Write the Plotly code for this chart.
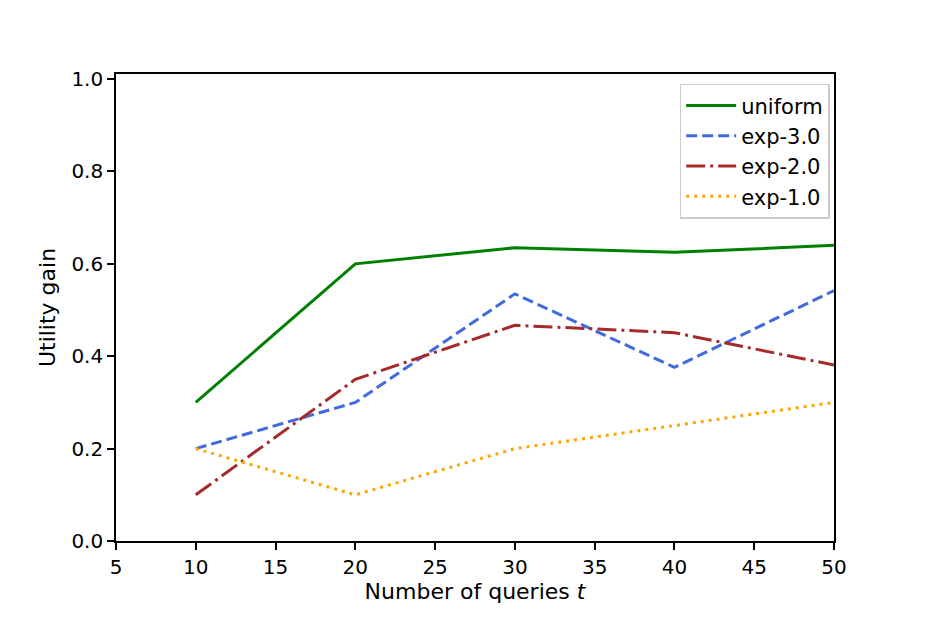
import plotly.graph_objects as go

# Number of queries on the x axis
queries = [10, 20, 30, 40, 50]

# Utility gain per sampling scheme
uniform = [0.30, 0.60, 0.635, 0.625, 0.64]
exp_3 = [0.20, 0.30, 0.535, 0.376, 0.542]
exp_2 = [0.10, 0.35, 0.467, 0.451, 0.381]
exp_1 = [0.20, 0.10, 0.20, 0.25, 0.30]

series = [
    ("uniform", uniform, "green", "solid"),
    ("exp-3.0", exp_3, "royalblue", "11px,5px"),
    ("exp-2.0", exp_2, "brown", "19px,5px,3px,5px"),
    ("exp-1.0", exp_1, "orange", "3px,5px"),
]

fig = go.Figure()
for name, vals, color, dash in series:
    fig.add_trace(go.Scatter(x=queries, y=vals, mode='lines', name=name,
                             line=dict(color=color, width=3, dash=dash)))

axis_style = dict(showline=True, linecolor="black", linewidth=1.6, mirror=True,
                  ticks="outside", ticklen=7, tickwidth=1.6, tickcolor="black",
                  showgrid=False, zeroline=False,
                  tickfont=dict(family="DejaVu Sans", size=20, color="black"))

# page body adds 8px offset, so the figure is 8px smaller on each side
fig.update_layout(
    width=918, height=610,
    plot_bgcolor="white", paper_bgcolor="white",
    margin=dict(l=108, r=92, t=66, b=77),
    font=dict(family="DejaVu Sans", size=18, color="black"),
    xaxis=dict(range=[5, 50], dtick=5, title=dict(text="Number of queries <i>t</i>", standoff=6), **axis_style),
    yaxis=dict(range=[0, 1.011], dtick=0.2, tickformat=".1f", title=dict(text="Utility gain", standoff=10), **axis_style),
    legend=dict(x=0.994, y=0.979, xanchor="right", yanchor="top",
                bordercolor="#cccccc", borderwidth=1.5, bgcolor="rgba(255,255,255,0.8)",
                itemwidth=50, font=dict(size=21)),
    showlegend=True,
)

fig.write_html("out.html")
